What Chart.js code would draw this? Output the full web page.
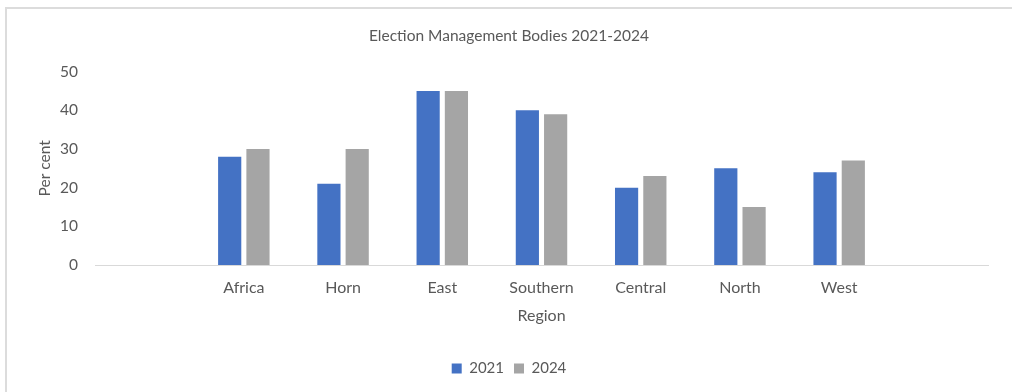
<!DOCTYPE html>
<html>
<head>
<meta charset="utf-8">
<script src="https://cdn.jsdelivr.net/npm/chart.js@4.4.1/dist/chart.umd.min.js"></script>
<style>
  html, body { margin: 0; padding: 0; background: #fff; }
  .frame {
    position: absolute; left: 5px; top: 7px; width: 1100px; height: 420px;
    border-top: 2px solid #dcdcdc; border-left: 2px solid #dcdcdc;
  }
  .wrap { position: absolute; left: 0; top: 0; width: 1012px; height: 392px; }
</style>
</head>
<body>
<div class="frame"></div>
<div class="wrap"><canvas id="chart" width="1012" height="392"></canvas></div>
<script>
// regions, with an empty slot at each end of the axis
const regions = ["", "Africa", "Horn", "East", "Southern", "Central", "North", "West", ""];
const share2021 = [null, 28, 21, 45, 40, 20, 25, 24, null];
const share2024 = [null, 30, 30, 45, 39, 23, 15, 27, null];
const seriesNames = ["2021", "2024"];

const textColor = "#595959";
const fontFamily = "Lato, 'Open Sans', sans-serif";

const ctx = document.getElementById("chart").getContext("2d");
new Chart(ctx, {
  type: "bar",
  data: {
    labels: regions,
    datasets: [
      {
        label: seriesNames[0],
        data: share2021,
        backgroundColor: "#4472C4",
        categoryPercentage: 0.57,
        barPercentage: 0.82,
      },
      {
        label: seriesNames[1],
        data: share2024,
        backgroundColor: "#A5A5A5",
        categoryPercentage: 0.57,
        barPercentage: 0.82,
      },
    ],
  },
  options: {
    responsive: false,
    animation: false,
    // left padding keeps title and legend centred a little right of the canvas middle
    layout: { padding: { left: 30, right: 24, top: 0, bottom: 6 } },
    plugins: {
      tooltip: { enabled: false },
      title: {
        display: true,
        text: "Election Management Bodies 2021-2024",
        color: textColor,
        font: { family: fontFamily, size: 15.5, weight: "normal" },
        padding: { top: 27, bottom: 26 },
      },
      legend: {
        position: "bottom",
        labels: {
          color: textColor,
          font: { family: fontFamily, size: 15 },
          boxWidth: 10,
          boxHeight: 10,
          padding: 10,
        },
      },
    },
    scales: {
      x: {
        grid: { display: false, drawTicks: false },
        border: { display: true, color: "#d9d9d9", width: 1 },
        ticks: { color: textColor, font: { family: fontFamily, size: 16 }, padding: 13 },
        title: {
          display: true,
          text: "Region",
          color: textColor,
          font: { family: fontFamily, size: 16 },
          padding: { top: 4, bottom: 26 },
        },
        afterFit: (scale) => { scale.height = 86; },
      },
      y: {
        min: 0,
        max: 50,
        grid: { display: false, drawTicks: false },
        border: { display: false },
        ticks: { stepSize: 10, color: textColor, font: { family: fontFamily, size: 15.5 }, padding: 17 },
        title: {
          display: true,
          text: "Per cent",
          color: textColor,
          font: { family: fontFamily, size: 15.5 },
          padding: { top: 6, bottom: 0 },
        },
        afterFit: (scale) => { scale.width = 65; },
      },
    },
  },
});
</script>
</body>
</html>
